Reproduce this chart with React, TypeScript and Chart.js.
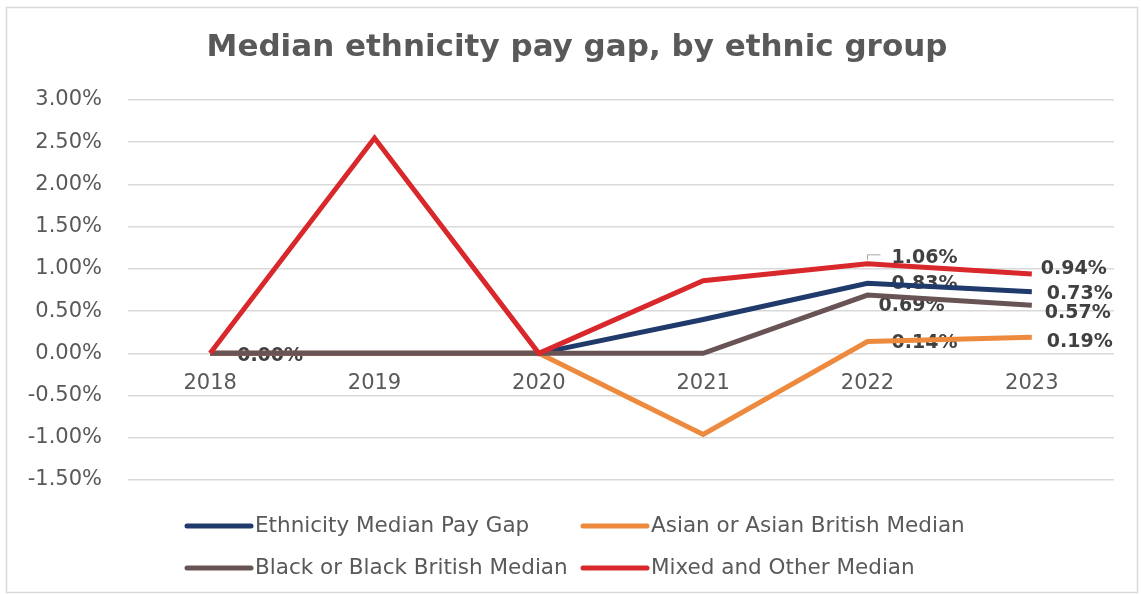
import { useEffect, useRef } from 'react';
import { Chart, registerables } from 'chart.js';

Chart.register(...registerables);

const chartTitle = 'Median ethnicity pay gap, by ethnic group';
const years = ['2018', '2019', '2020', '2021', '2022', '2023'];
const ethnicityMedian = [0, 0, 0, 0.4, 0.83, 0.73];
const asianMedian = [0, 0, 0, -0.96, 0.14, 0.19];
const blackMedian = [0, 0, 0, 0, 0.69, 0.57];
const mixedMedian = [0, 2.55, 0, 0.86, 1.06, 0.94];
const seriesNames = [
  'Ethnicity Median Pay Gap',
  'Asian or Asian British Median',
  'Black or Black British Median',
  'Mixed and Other Median',
];
const seriesColors = ['#1f3a6b', '#ee8a3e', '#685454', '#d9282c'];
const labelledPoints = [[0, 4, 5], [4, 5], [4, 5], [4, 5]];
const yMin = -1.5;
const yMax = 3.0;
const yStep = 0.5;

const FONT = '"DejaVu Sans", Verdana, sans-serif';

// label offsets (text left edge dx, text centre dy) keyed by series index and point index
const labelOffsets: Record<string, [number, number]> = {
  '0-0': [27, 3],
  '0-4': [24, 1],
  '0-5': [15, 2],
  '1-4': [24, 2],
  '1-5': [15, 5],
  '2-4': [11, 11],
  '2-5': [13, 8],
  '3-4': [24, -6],
  '3-5': [9, -5],
};

const frameAndLabels = {
  id: 'frameAndLabels',
  beforeDraw(chart: any) {
    const ctx = chart.ctx;
    ctx.save();
    ctx.fillStyle = '#ffffff';
    ctx.fillRect(0, 0, chart.width, chart.height);
    ctx.strokeStyle = '#d9d9d9';
    ctx.lineWidth = 1.5;
    ctx.strokeRect(6.5, 7.5, chart.width - 10, chart.height - 9);
    // title
    ctx.font = `bold 31px ${FONT}`;
    ctx.fillStyle = '#595959';
    ctx.textAlign = 'center';
    ctx.textBaseline = 'middle';
    ctx.fillText(chartTitle, 577, 47.6);
    ctx.restore();
  },
  beforeDatasetsDraw(chart: any) {
    const ctx = chart.ctx;
    ctx.save();
    ctx.font = `bold 19px ${FONT}`;
    ctx.fillStyle = '#404040';
    ctx.textAlign = 'left';
    ctx.textBaseline = 'middle';
    chart.data.datasets.forEach((ds: any, i: number) => {
      const meta = chart.getDatasetMeta(i);
      labelledPoints[i].forEach((j) => {
        const pt = meta.data[j];
        if (!pt) return;
        const off = labelOffsets[`${i}-${j}`] || [10, 0];
        const v = ds.data[j] as number;
        ctx.fillText(`${v.toFixed(2)}%`, pt.x + off[0], pt.y + off[1]);
        if (i === 3 && j === 4) {
          ctx.save();
          ctx.strokeStyle = '#a6a6a6';
          ctx.lineWidth = 1;
          ctx.beginPath();
          ctx.moveTo(pt.x, pt.y - 4);
          ctx.lineTo(pt.x, pt.y - 9);
          ctx.lineTo(pt.x + 13, pt.y - 9);
          ctx.stroke();
          ctx.restore();
        }
      });
    });
    ctx.restore();
  },
  afterDraw(chart: any) {
    const ctx = chart.ctx;
    ctx.save();
    ctx.font = `21.5px ${FONT}`;
    ctx.textAlign = 'left';
    ctx.textBaseline = 'middle';
    const cols = [187, 583];
    const rows = [526, 568];
    chart.data.datasets.forEach((ds: any, i: number) => {
      const x = cols[i % 2];
      const y = rows[Math.floor(i / 2)];
      ctx.strokeStyle = ds.borderColor;
      ctx.lineWidth = 5;
      ctx.lineCap = 'round';
      ctx.beginPath();
      ctx.moveTo(x, y);
      ctx.lineTo(x + 64, y);
      ctx.stroke();
      ctx.fillStyle = '#595959';
      ctx.fillText(ds.label, x + 68, y);
    });
    ctx.restore();
  },
};

export default function App() {
  const ref = useRef<HTMLCanvasElement | null>(null);
  useEffect(() => {
    document.body.style.margin = '0';
    if (!ref.current) return;
    const series = [ethnicityMedian, asianMedian, blackMedian, mixedMedian];
    const chart = new Chart(ref.current, {
      type: 'line',
      data: {
        labels: years,
        datasets: series.map((d, i) => ({
          label: seriesNames[i],
          data: d,
          borderColor: seriesColors[i],
          backgroundColor: seriesColors[i],
          borderWidth: 5,
          pointRadius: 0,
          tension: 0,
          order: 3 - i,
        })),
      },
      options: {
        responsive: false,
        animation: false,
        layout: { padding: { top: 100, right: 27, bottom: 114, left: 0 } },
        plugins: {
          legend: { display: false },
          tooltip: { enabled: false },
          title: { display: false },
        },
        scales: {
          x: {
            type: 'category',
            offset: true,
            position: { y: 0 } as any,
            grid: { display: false },
            border: { display: false },
            ticks: {
              color: '#595959',
              font: { family: FONT, size: 21 },
              padding: 10,
              maxRotation: 0,
            },
          },
          y: {
            min: yMin,
            max: yMax,
            afterFit: (scale: any) => {
              scale.width = 128;
            },
            grid: { color: '#d9d9d9', lineWidth: 1.5, drawTicks: false },
            border: { display: false },
            ticks: {
              stepSize: yStep,
              color: '#595959',
              font: { family: FONT, size: 21 },
              padding: 26,
              callback: (v: any) => `${Number(v).toFixed(2)}%`,
            },
          },
        } as any,
      },
      plugins: [frameAndLabels],
    });
    return () => chart.destroy();
  }, []);
  return (
    <div style={{ width: 1141, height: 594 }}>
      <canvas ref={ref} width={1141} height={594} style={{ display: 'block' }} />
    </div>
  );
}
